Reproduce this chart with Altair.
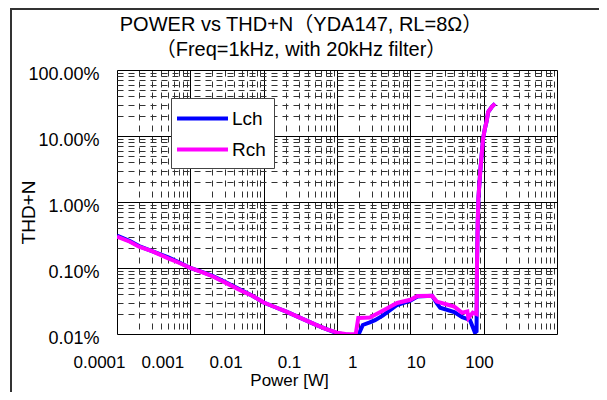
import altair as alt
import pandas as pd

# ---------------- data ----------------
rch_p = [0.0001, 0.00015, 0.0002, 0.0003, 0.0005, 0.0007, 0.001, 0.0015, 0.002, 0.003,
         0.005, 0.007, 0.01, 0.015, 0.02, 0.03, 0.05, 0.07, 0.1, 0.13, 0.18, 0.195,
         0.28, 0.39, 0.66, 1.0, 1.25, 1.98, 2.3, 3.16, 3.97, 5.1, 6.0, 6.2, 7.1, 8.0,
         8.1, 8.3, 8.5, 9.0, 9.5, 9.8, 10.4, 11.0, 11.5, 13.0, 14.3]
rch_t = [0.30, 0.25, 0.21, 0.18, 0.14, 0.12, 0.10, 0.085, 0.075, 0.06,
         0.045, 0.038, 0.030, 0.025, 0.022, 0.018, 0.014, 0.012, 0.0105, 0.0100, 0.0099, 0.0175,
         0.0178, 0.0215, 0.0295, 0.033, 0.0377, 0.038, 0.031, 0.028, 0.026, 0.021, 0.022, 0.0175, 0.021, 0.020,
         0.1, 0.5, 1.2, 3.0, 6.0, 9.0, 13.0, 17.0, 23.0, 28.0, 31.0]

lch_p = [0.0001, 0.00015, 0.0002, 0.0003, 0.0005, 0.0007, 0.001, 0.0015, 0.002, 0.003,
         0.005, 0.007, 0.01, 0.015, 0.02, 0.03, 0.05, 0.07, 0.1, 0.13, 0.175, 0.19,
         0.225, 0.28, 0.33, 0.42, 0.66, 1.0, 1.25, 1.98, 2.3, 2.55, 3.97, 5.1, 6.5, 7.6, 8.0,
         8.1, 8.3, 8.5, 9.0, 9.5, 9.8, 10.4, 11.0, 11.5, 13.0, 14.3]
lch_t = [0.31, 0.255, 0.215, 0.18, 0.145, 0.122, 0.10, 0.086, 0.076, 0.061,
         0.046, 0.038, 0.030, 0.025, 0.022, 0.018, 0.014, 0.012, 0.0103, 0.0098, 0.0095, 0.009,
         0.0137, 0.015, 0.0162, 0.019, 0.0275, 0.032, 0.037, 0.038, 0.029, 0.025, 0.0215, 0.018, 0.0163, 0.0105, 0.011,
         0.1, 0.5, 1.2, 3.0, 6.0, 9.0, 13.0, 17.0, 23.0, 28.0, 31.0]

channels = ["Lch", "Rch"]
colors = ["#0000FF", "#FF00FF"]

x_label_values = [0.0001, 0.001, 0.01, 0.1, 1, 10, 100]

title_lines = ["POWER vs THD+N（YDA147, RL=8Ω）", "（Freq=1kHz, with 20kHz filter）"]

# ---------------- tables ----------------
rows = []
for i, (p, t) in enumerate(zip(lch_p, lch_t)):
    rows.append({"P": p, "THD": t, "ch": "Lch", "i": i})
for i, (p, t) in enumerate(zip(rch_p, rch_t)):
    rows.append({"P": p, "THD": t, "ch": "Rch", "i": i})
df = pd.DataFrame(rows)

x_grid = [m * 10.0 ** e for e in range(-4, 2) for m in range(1, 10)] + [100.0]
y_grid = [m * 10.0 ** e for e in range(-2, 2) for m in range(1, 10)] + [100.0]

FONT = "Liberation Sans, Arial, Noto Sans CJK JP, sans-serif"
W, H = 440, 264
is_decade = "abs(log(datum.value)/LN10 - round(log(datum.value)/LN10)) < 1e-6"
grid_dash = {"condition": {"test": is_decade, "value": []}, "value": [6, 5]}
grid_color = {"condition": {"test": is_decade, "value": "#000000"}, "value": "#333333"}

xscale = alt.Scale(type="log", domain=[1e-4, 100])
yscale = alt.Scale(type="log", domain=[0.01, 100])

frame = alt.Chart(alt.Data(values=[{"a": 1}])).mark_rect(
    fill=None, stroke="#333333", strokeWidth=2, clip=False
).encode(
    x=alt.value(-106), x2=alt.value(W + 120),
    y=alt.value(-61), y2=alt.value(H + 120),
)

lines = alt.Chart(df).mark_line(strokeWidth=4, clip=True).encode(
    x=alt.X("P:Q", scale=xscale,
            axis=alt.Axis(values=x_grid, labels=False, ticks=False, domain=False,
                          title=None, grid=True, gridDash=grid_dash, gridColor=grid_color,
                          gridWidth=1, gridOpacity=1)),
    y=alt.Y("THD:Q", scale=yscale,
            axis=alt.Axis(values=y_grid, ticks=False, domain=False, grid=True,
                          gridDash=grid_dash, gridColor=grid_color, gridWidth=1, gridOpacity=1,
                          labelExpr=f"({is_decade}) ? format(datum.value, '.2f') + '%' : ''",
                          labelOverlap=False, labelFlush=False, labelPadding=18,
                          labelOffset=4, labelFontSize=18, labelFont=FONT, labelColor="#000",
                          title="THD+N", titleFontSize=19, titleFont=FONT,
                          titleFontWeight="normal", titleColor="#000",
                          titleX=-89, titleY=142, titleAngle=270, titleAlign="center",
                          titleBaseline="middle")),
    color=alt.Color("ch:N", scale=alt.Scale(domain=channels, range=colors),
                    legend=alt.Legend(orient="none", legendX=54, legendY=28, title=None,
                                      symbolType="M-2.5,0H2.5", symbolStrokeWidth=4,
                                      symbolSize=416, symbolOffset=11,
                                      labelFontSize=19, labelFont=FONT,
                                      labelColor="#000", labelOffset=17, padding=8,
                                      rowPadding=8,
                                      strokeColor="#444444", fillColor="white",
                                      cornerRadius=0)),
    order="i:Q",
)

x_labels = alt.Chart(pd.DataFrame({"P": x_label_values})).mark_point(opacity=0).encode(
    x=alt.X("P:Q",
            scale=alt.Scale(type="log", domain=[1e-4, 100], range=[-18, 362]),
            axis=alt.Axis(orient="bottom", values=x_label_values, format="~g",
                          domain=False, ticks=False, grid=False, labelFlush=False,
                          labelOverlap=False, labelPadding=20, labelFontSize=17,
                          labelFont=FONT, labelColor="#000",
                          title="Power [W]", titleFontSize=17, titleFont=FONT,
                          titleFontWeight="normal", titleColor="#000", titlePadding=2)),
)

chart = alt.layer(frame, lines, x_labels).resolve_scale(x="independent").properties(
    width=W, height=H,
    title=alt.TitleParams(text=title_lines, fontSize=20, font=FONT, fontWeight="normal",
                          color="#000", anchor="middle", dx=-36, dy=62, offset=10,
                          lineHeight=25),
    padding={"left": 109, "top": 62, "right": 42, "bottom": 58},
    autosize=alt.AutoSizeParams(type="none"),
).configure_view(stroke="#000000", strokeWidth=2).configure(background="white")

chart.save("out.html", embed_options={"renderer": "svg", "actions": False})
